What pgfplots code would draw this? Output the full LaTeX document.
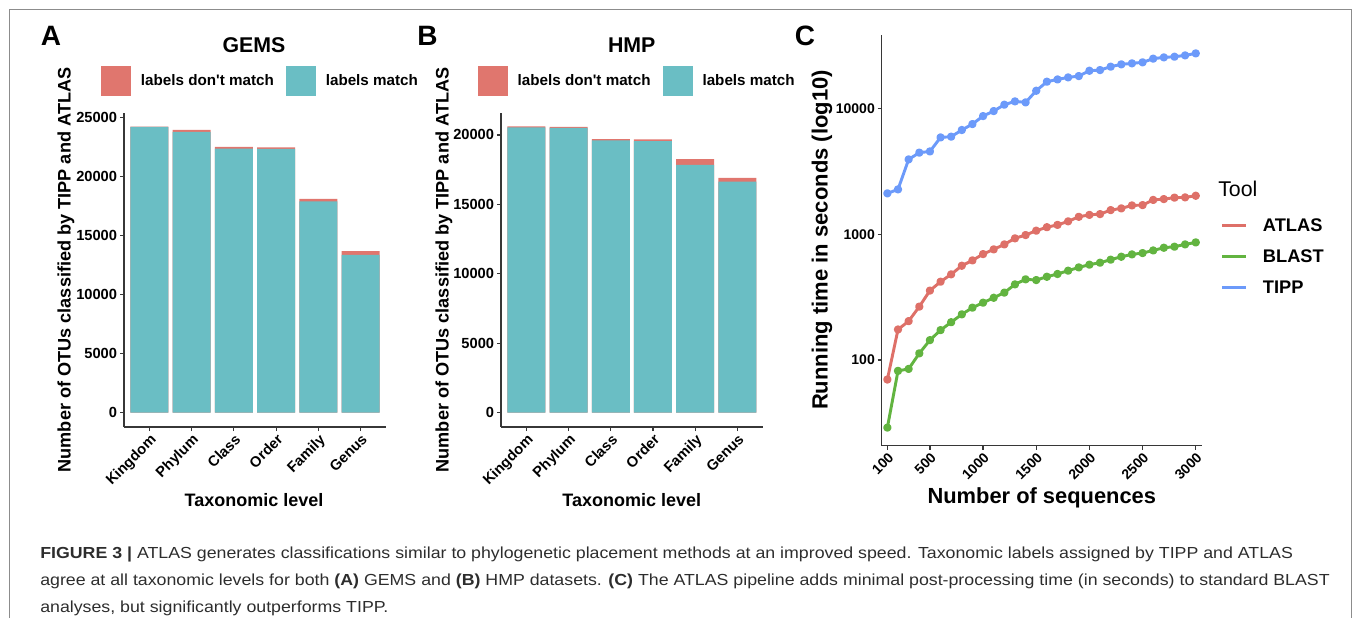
\documentclass[border=0pt]{standalone}
\usepackage{fontspec}
\setmainfont{Liberation Sans}
\newfontfamily\capfont[FakeStretch=1.11]{Liberation Sans}
\usepackage{pgfplots}
\pgfplotsset{compat=1.18}

\definecolor{matchc}{RGB}{106,190,196}
\definecolor{nomatchc}{RGB}{224,118,110}
\definecolor{atlasc}{RGB}{222,112,104}
\definecolor{blastc}{RGB}{98,180,64}
\definecolor{tippc}{RGB}{108,154,250}
\definecolor{axc}{RGB}{55,55,55}
\definecolor{capc}{RGB}{45,45,45}
\newcommand{\fs}[1]{\fontsize{#1}{#1}\selectfont}

% ggplot-like bar panel
\pgfplotsset{
  ggbar/.style={
    scale only axis, anchor=south west,
    axis x line*=bottom, axis y line*=left,
    axis line style={axc, line width=0.9pt},
    tick style={axc, line width=0.9pt},
    tick align=outside, major tick length=3pt,
    xmin=0.4, xmax=6.6,
    xtick={1,...,6},
    xticklabels={Kingdom,Phylum,Class,Order,Family,Genus},
    xticklabel style={rotate=45, anchor=north east, inner sep=1pt, font=\bfseries\fs{11}},
    yticklabel style={font=\bfseries\fs{11}, inner sep=2pt},
    scaled y ticks=false,
    /pgf/number format/assume math mode=true,
    ybar, bar width=0.9, bar shift=0pt,
    legend columns=2,
    legend image code/.code={\fill[##1, draw=none] (0pt,-11.25pt) rectangle (22.5pt,11.25pt);},
    legend style={draw=none, fill=none, inner sep=0pt, outer sep=0pt, anchor=west,
      font=\bfseries\fs{11.4},
      nodes={inner sep=0pt},
      /tikz/every odd column/.append style={column sep=7.5pt},
      /tikz/every even column/.append style={column sep=9pt}},
  },
}

\begin{document}
\begin{tikzpicture}
\path[use as bounding box] (0,0) rectangle (1017.75pt,463.5pt);

% A: GEMS
\begin{axis}[ggbar, at={(93pt,143.25pt)}, width=196.5pt, height=235.5pt,
  ymin=-1210, ymax=25410,
  ytick={0,5000,10000,15000,20000,25000},
  yticklabels={0,5000,10000,15000,20000,25000},
  legend style={at={(axis description cs:-0.0878,1.102)}}]
\addlegendimage{fill=nomatchc, draw=none}\addlegendentry{labels don\textquotesingle t match}
\addlegendimage{fill=matchc, draw=none}\addlegendentry{labels match}
\addplot[fill=nomatchc, draw=none, forget plot] coordinates {
  (1,24260) (2,23980) (3,22540) (4,22490) (5,18140) (6,13700)};
\addplot[fill=matchc, draw=none, forget plot] coordinates {
  (1,24240) (2,23810) (3,22400) (4,22370) (5,17910) (6,13390)};
\end{axis}

% B: HMP
\begin{axis}[ggbar, at={(375.75pt,143.25pt)}, width=196.3pt, height=235.5pt,
  ymin=-1028, ymax=21577,
  ytick={0,5000,10000,15000,20000},
  yticklabels={0,5000,10000,15000,20000},
  legend style={at={(axis description cs:-0.089,1.102)}}]
\addlegendimage{fill=nomatchc, draw=none}\addlegendentry{labels don\textquotesingle t match}
\addlegendimage{fill=matchc, draw=none}\addlegendentry{labels match}
\addplot[fill=nomatchc, draw=none, forget plot] coordinates {
  (1,20620) (2,20570) (3,19700) (4,19680) (5,18250) (6,16900)};
\addplot[fill=matchc, draw=none, forget plot] coordinates {
  (1,20550) (2,20500) (3,19610) (4,19560) (5,17840) (6,16640)};
\end{axis}

% C: running time
\begin{axis}[scale only axis, anchor=south west, at={(661.3pt,129.2pt)},
  width=240.2pt, height=308pt,
  ymode=log, xmin=47, xmax=3059, ymin=20.8, ymax=38560,
  axis x line*=bottom, axis y line*=left,
  axis line style={axc, line width=0.9pt},
  tick style={axc, line width=0.9pt},
  tick align=outside, major tick length=3pt,
  xminorticks=false, yminorticks=false,
  xtick={100,500,1000,1500,2000,2500,3000},
  xticklabels={100,500,1000,1500,2000,2500,3000},
  ytick={100,1000,10000}, yticklabels={100,1000,10000},
  xticklabel style={rotate=45, anchor=north east, inner sep=1pt, font=\bfseries\fs{10.5}},
  yticklabel style={font=\bfseries\fs{10.5}, inner sep=2pt},
  /pgf/number format/assume math mode=true,
  legend image code/.code={\draw[#1, mark=none] (0pt,0pt) -- (18.2pt,0pt);},
  legend style={draw=none, fill=none, inner sep=0pt, outer sep=0pt,
    at={(axis description cs:1.0584,0.4602)}, anchor=west,
    font=\bfseries\fs{13.7},
    nodes={inner sep=0pt, minimum height=23.25pt},
    /tikz/every odd column/.append style={column sep=11.25pt}},
  legend cell align=left,
  every axis plot/.append style={line width=2.2pt, line join=round, mark=*, mark size=2pt},
]
\addplot[atlasc, mark options={fill=atlasc}] coordinates {
  (100,70) (200,175) (300,204) (400,266) (500,357) (600,420) (700,481) (800,563)
  (900,621) (1000,697) (1100,760) (1200,832) (1300,930) (1400,988) (1500,1070)
  (1600,1140) (1700,1190) (1800,1270) (1900,1380) (2000,1430) (2100,1450)
  (2200,1560) (2300,1610) (2400,1700) (2500,1710) (2600,1880) (2700,1910)
  (2800,1960) (2900,1970) (3000,2030)};
\addlegendentry{ATLAS}
\addplot[blastc, mark options={fill=blastc}] coordinates {
  (100,29) (200,82) (300,85) (400,113) (500,144) (600,173) (700,200) (800,231)
  (900,261) (1000,286) (1100,313) (1200,344) (1300,400) (1400,439) (1500,433)
  (1600,460) (1700,484) (1800,514) (1900,546) (2000,574) (2100,595) (2200,629)
  (2300,664) (2400,693) (2500,710) (2600,745) (2700,783) (2800,798) (2900,832)
  (3000,863)};
\addlegendentry{BLAST}
\addplot[tippc, mark options={fill=tippc}] coordinates {
  (100,2120) (200,2280) (300,3950) (400,4470) (500,4570) (600,5910) (700,5990)
  (800,6770) (900,7550) (1000,8740) (1100,9580) (1200,10760) (1300,11440)
  (1400,11230) (1500,13900) (1600,16400) (1700,17100) (1800,17750) (1900,18190)
  (2000,20050) (2100,20310) (2200,21600) (2300,22540) (2400,22960) (2500,23390)
  (2600,25020) (2700,25610) (2800,25930) (2900,26560) (3000,27560)};
\addlegendentry{TIPP}
\end{axis}

\begin{scope}[x=0.75pt, y=0.75pt]
% frame
\draw[black!45, line width=0.75pt] (9,0) -- (9,608.5) -- (1351.7,608.5) -- (1351.7,0);
% panel letters and titles
\node[inner sep=0pt, font=\bfseries\fs{21}] at (51,582) {A};
\node[inner sep=0pt, font=\bfseries\fs{21}] at (427.5,582) {B};
\node[inner sep=0pt, font=\bfseries\fs{21}] at (805,582) {C};
\node[inner sep=0pt, font=\bfseries\fs{16}] at (254,573) {GEMS};
\node[inner sep=0pt, font=\bfseries\fs{16}] at (631.7,573) {HMP};
% axis titles
\node[inner sep=0pt, font=\bfseries\fs{13.5}] at (254,118) {Taxonomic level};
\node[inner sep=0pt, font=\bfseries\fs{13.5}] at (631.7,118) {Taxonomic level};
\node[inner sep=0pt, rotate=90, font=\bfseries\fs{13.6}] at (66,348) {Number of OTUs classified by TIPP and ATLAS};
\node[inner sep=0pt, rotate=90, font=\bfseries\fs{13.6}] at (444,348) {Number of OTUs classified by TIPP and ATLAS};
\node[inner sep=0pt, font=\bfseries\fs{16.4}] at (1041.8,120) {Number of sequences};
\node[inner sep=0pt, rotate=90, font=\bfseries\fs{16.5}] at (822,378) {Running time in seconds (log10)};
\node[inner sep=0pt, anchor=west, font=\fs{16}] at (1218,429) {Tool};
% caption
\begin{scope}[every node/.style={inner sep=0pt, anchor=base west, font=\capfont\fs{12}, text=capc}]
\node at (40,60) {\textbf{FIGURE 3 |} ATLAS generates classifications similar to phylogenetic placement methods at an improved speed. Taxonomic labels assigned by TIPP and ATLAS};
\node at (40,33) {agree at all taxonomic levels for both \textbf{(A)} GEMS and \textbf{(B)} HMP datasets. \textbf{(C)} The ATLAS pipeline adds minimal post-processing time (in seconds) to standard BLAST};
\node at (40,6) {analyses, but significantly outperforms TIPP.};
\end{scope}
\end{scope}
\end{tikzpicture}
\end{document}
